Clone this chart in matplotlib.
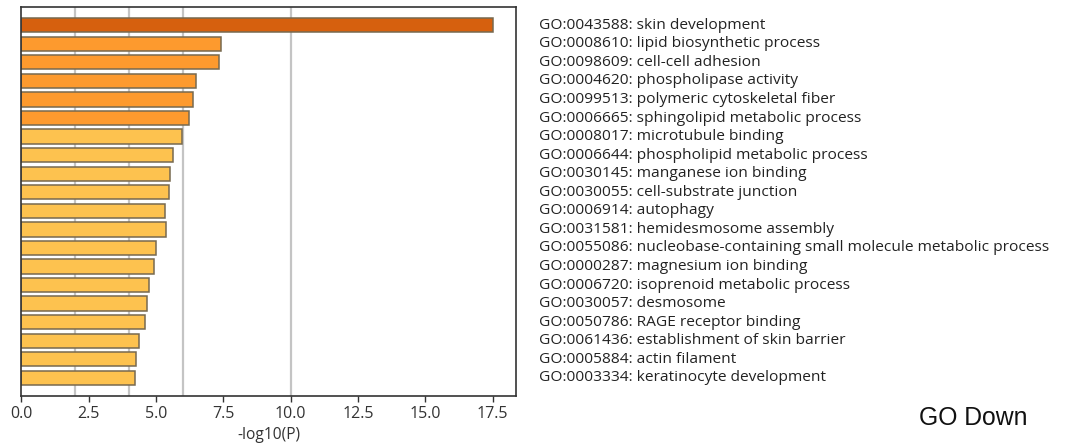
import matplotlib
matplotlib.use("Agg")
import matplotlib.pyplot as plt
import numpy as np

terms = [
    "GO:0043588: skin development",
    "GO:0008610: lipid biosynthetic process",
    "GO:0098609: cell-cell adhesion",
    "GO:0004620: phospholipase activity",
    "GO:0099513: polymeric cytoskeletal fiber",
    "GO:0006665: sphingolipid metabolic process",
    "GO:0008017: microtubule binding",
    "GO:0006644: phospholipid metabolic process",
    "GO:0030145: manganese ion binding",
    "GO:0030055: cell-substrate junction",
    "GO:0006914: autophagy",
    "GO:0031581: hemidesmosome assembly",
    "GO:0055086: nucleobase-containing small molecule metabolic process",
    "GO:0000287: magnesium ion binding",
    "GO:0006720: isoprenoid metabolic process",
    "GO:0030057: desmosome",
    "GO:0050786: RAGE receptor binding",
    "GO:0061436: establishment of skin barrier",
    "GO:0005884: actin filament",
    "GO:0003334: keratinocyte development",
]
neg_log_p = [17.5, 7.40, 7.35, 6.48, 6.39, 6.21, 5.98, 5.62, 5.52, 5.48,
             5.35, 5.36, 4.99, 4.91, 4.73, 4.65, 4.58, 4.36, 4.26, 4.22]

xticks = [0.0, 2.5, 5.0, 7.5, 10.0, 12.5, 15.0, 17.5]
grid_lines = [2, 4, 6, 10]

FONT = "Open Sans"


def bar_color(v):
    if v >= 10:
        return "#D6600E"
    if v >= 6:
        return "#FD9A2E"
    return "#FDC24F"


fig = plt.figure(figsize=(10.66, 4.45), dpi=100)
ax = fig.add_axes([0.02, 0.110, 0.464, 0.875])

y = np.arange(len(terms))
for g in grid_lines:
    ax.axvline(g, color="#c4c4c4", lw=1.6, zorder=0)

ax.barh(y, neg_log_p, height=0.77, color=[bar_color(v) for v in neg_log_p],
        edgecolor="#77694f", linewidth=1.1, zorder=2)

ax.set_ylim(len(terms) - 0.02, -1.0)
ax.set_xlim(0, 18.36)
ax.set_yticks([])
ax.set_xticks(xticks)
ax.set_xticklabels([f"{t:.1f}" for t in xticks], family=FONT, fontsize=11.5,
                   color="#333333")
ax.tick_params(axis="x", length=4, width=1, color="#333333", pad=3.5)
ax.set_xlabel("-log10(P)", family=FONT, fontsize=11.2, color="#333333",
              labelpad=3)
for s in ax.spines.values():
    s.set_color("#333333")
    s.set_linewidth(1.2)

for yi, t in zip(y, terms):
    ax.annotate(t, xy=(1.0, yi), xycoords=("axes fraction", "data"),
                xytext=(23, 0), textcoords="offset pixels",
                ha="left", va="center", family=FONT, fontsize=11.15,
                color="#222222")

fig.text(0.913, 0.061, "GO Down", family="Liberation Sans", fontsize=17.8,
         ha="center", va="center", color="#111111")

fig.savefig("out.png", dpi=100)
